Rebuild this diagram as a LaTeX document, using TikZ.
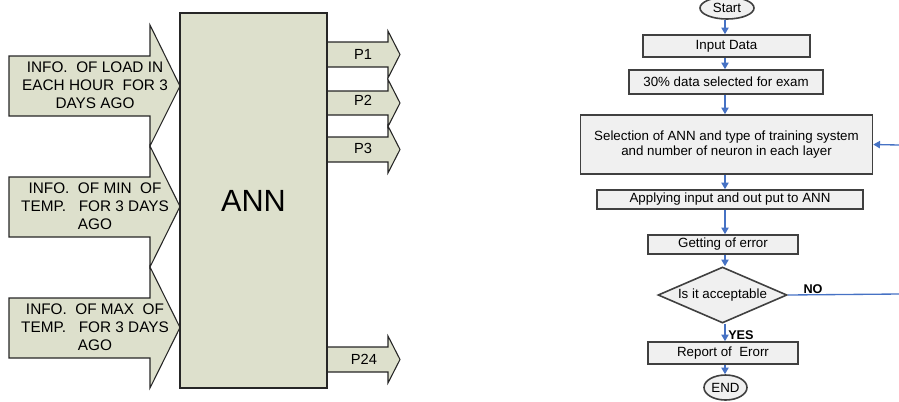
\documentclass[tikz,border=0pt]{standalone}
\usepackage{fontspec}
\setmainfont{Liberation Sans}
\usetikzlibrary{shapes.geometric,arrows.meta}
\definecolor{annfill}{RGB}{221,224,204}
\definecolor{boxfill}{RGB}{240,240,240}
\definecolor{flowblue}{RGB}{70,114,196}
\begin{document}
\begin{tikzpicture}[x=0.75pt,y=-0.75pt,
  shapeline/.style={draw=black!85,fill=annfill,line width=0.8pt,line join=miter},
  intext/.style={align=center,inner sep=0pt,font=\fontsize{11.5}{13.5}\selectfont},
  ptext/.style={inner sep=0pt,font=\fontsize{11}{13}\selectfont},
  fbox/.style={draw=black!75,fill=boxfill,line width=1.2pt,inner sep=0pt,align=center,font=\fontsize{10}{11.5}\selectfont},
  fround/.style={ellipse,draw=black!75,fill=boxfill,line width=1.2pt,inner sep=0pt,font=\fontsize{10}{11.5}\selectfont},
  fdia/.style={diamond,draw=black!75,fill=boxfill,line width=1.2pt,inner sep=0pt,aspect=2.3,font=\fontsize{10}{11.5}\selectfont},
  flowline/.style={draw=flowblue,line width=1pt},
  flow/.style={flowline,-{Triangle[length=5pt,width=5.5pt]}},
  lbl/.style={inner sep=0pt,font=\bfseries\fontsize{9.5}{11}\selectfont}]
\useasboundingbox (0,0) rectangle (899,401);

% ---------- input arrows ----------
\draw[shapeline] (9,56) -- (150,56) -- (150,25) -- (180,86) -- (150,146) -- (150,116) -- (9,116) -- cycle;
\draw[shapeline] (9,177) -- (150,177) -- (150,146) -- (180,206.5) -- (150,267) -- (150,237) -- (9,237) -- cycle;
\draw[shapeline] (9,298) -- (150,298) -- (150,267) -- (180,327.5) -- (150,388) -- (150,358) -- (9,358) -- cycle;
\node[intext] (in1) at (95,85) {INFO.\ \ OF LOAD IN\\EACH HOUR\ \ FOR 3\\DAYS AGO};
\node[intext] (in2) at (95,206) {INFO.\ \ OF MIN\ \ OF\\TEMP.\ \ \ FOR 3 DAYS\\AGO};
\node[intext] (in3) at (95,327) {INFO.\ \ OF MAX\ \ OF\\TEMP.\ \ \ FOR 3 DAYS\\AGO};

% ---------- output arrows ----------
\path[shapeline] (327,42) -- (388,42) -- (388,31) -- (400,54.5) -- (388,78) -- (388,67) -- (327,67);
\path[shapeline] (327,91) -- (388,91) -- (388,79.5) -- (400,103) -- (388,126.5) -- (388,115) -- (327,115);
\path[shapeline] (327,137) -- (388,137) -- (388,126) -- (400,149.5) -- (388,173) -- (388,162) -- (327,162);
\path[shapeline] (327,347) -- (388,347) -- (388,336) -- (400,359.5) -- (388,383) -- (388,372) -- (327,372);

% ---------- ANN box ----------
\node[shapeline,rectangle,minimum width=110.25pt,minimum height=281.25pt,inner sep=0pt,
      font=\fontsize{23}{26}\selectfont] (ann) at (253.5,200.5) {ANN};

\node[ptext] (p1) at (363,54) {P1};
\node[ptext] (p2) at (363,100) {P2};
\node[ptext] (p3) at (363,148) {P3};
\node[ptext] (p24) at (364,359) {P24};

% ---------- flowchart ----------
\coordinate (axis) at (725,0);
\node[fround,minimum width=40.5pt,minimum height=16.5pt] (start) at (727,8) {Start};
\node[fbox,minimum width=125.25pt,minimum height=16.5pt] (input) at (726.5,46) {Input Data};
\node[fbox,minimum width=145.5pt,minimum height=18pt] (exam) at (726,82) {30\% data selected for exam};
\node[fbox,minimum width=219pt,minimum height=44.25pt] (sel) at (726.5,144.5) {Selection of ANN and type of training system\\and number of neuron in each layer};
\node[fbox,minimum width=199.5pt,minimum height=14.25pt] (apply) at (730,199.5) {Applying input and out put to ANN};
\node[fbox,minimum width=112.5pt,minimum height=14.25pt] (err) at (723,244.5) {Getting of error};
\node[fdia,minimum width=96.75pt,minimum height=42pt] (dia) at (722.5,295) {Is it acceptable};
\node[fbox,minimum width=112.5pt,minimum height=16.5pt] (report) at (723,353) {Report of\ \ Erorr};
\node[fround,minimum width=32.25pt,minimum height=18.75pt] (end) at (725.5,387.5) {END};

\draw[flow] (start.south -| axis) -- (input.north -| axis);
\draw[flow] (input.south -| axis) -- (exam.north -| axis);
\draw[flow] (exam.south -| axis) -- (sel.north -| axis);
\draw[flow] (sel.south -| axis) -- (apply.north -| axis);
\draw[flow] (apply.south -| axis) -- (err.north -| axis);
\draw[flow] (err.south -| axis) -- (dia.north -| axis);
\draw[flow] (dia.south -| axis) -- (report.north -| axis);
\draw[flow] (report.south -| axis) -- (end.north -| axis);

\coordinate (noR) at (899,294);
\coordinate (fbR) at (899,145);
\draw[flowline] (dia.east) -- (noR);
\draw[flow] (fbR) -- (sel.east);
\node[lbl] (no) at (813,289) {NO};
\node[lbl,anchor=west] (yes) at (728,335) {YES};
\end{tikzpicture}
\end{document}
